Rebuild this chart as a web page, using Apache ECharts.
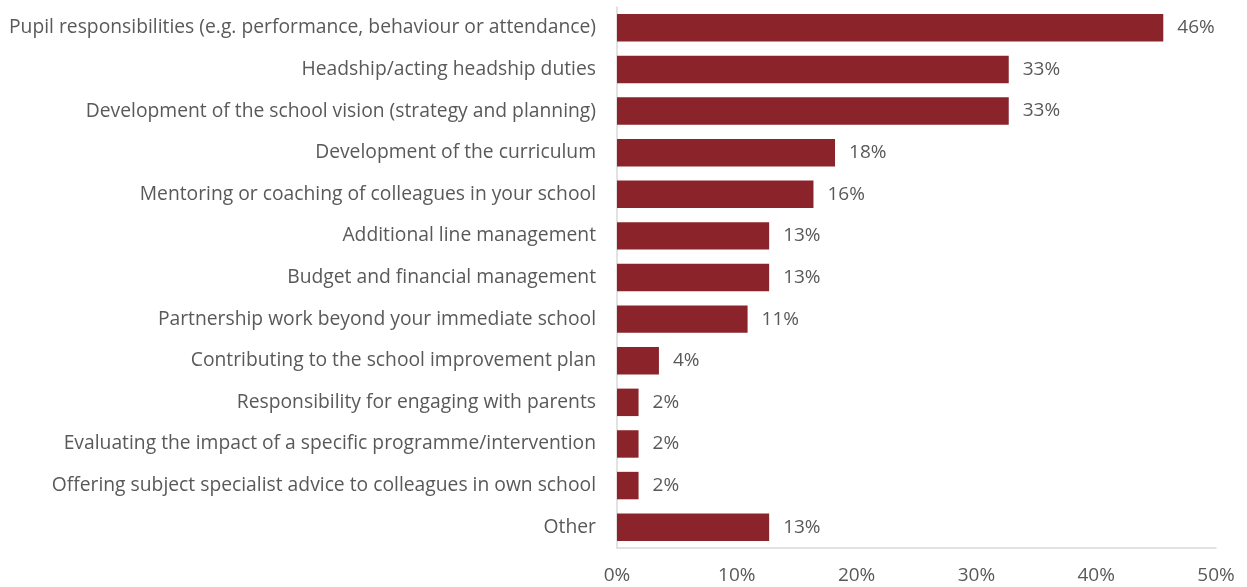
<!DOCTYPE html>
<html>
<head>
<meta charset="utf-8">
<script src="https://cdn.jsdelivr.net/npm/echarts@6/dist/echarts.min.js"></script>
<style>
  html, body { margin: 0; padding: 0; background: #fff; }
  #main { width: 1247px; height: 587px; }
</style>
</head>
<body>
<div id="main"></div>
<script>
var categories = [
  "Pupil responsibilities (e.g. performance, behaviour or attendance)",
  "Headship/acting headship duties",
  "Development of the school vision (strategy and planning)",
  "Development of the curriculum",
  "Mentoring or coaching of colleagues in your school",
  "Additional line management",
  "Budget and financial management",
  "Partnership work beyond your immediate school",
  "Contributing to the school improvement plan",
  "Responsibility for engaging with parents",
  "Evaluating the impact of a specific programme/intervention",
  "Offering subject specialist advice to colleagues in own school",
  "Other"
];
var values = [45.6, 32.7, 32.7, 18.2, 16.4, 12.7, 12.7, 10.9, 3.5, 1.8, 1.8, 1.8, 12.7];
var xTicks = [0, 10, 20, 30, 40, 50];

var textColor = "#595959";
var fontFam = "'Open Sans', Lato, sans-serif";

var myChart = echarts.init(document.getElementById("main"));

var option = {
  backgroundColor: "#fff",
  animation: false,
  grid: {
    left: 617,
    right: 31,
    top: 7,
    bottom: 39
  },
  xAxis: {
    type: "value",
    min: xTicks[0],
    max: xTicks[xTicks.length - 1],
    interval: 10,
    axisLine: { show: true, lineStyle: { color: "#d9d9d9", width: 1.5 } },
    axisTick: { show: false },
    splitLine: { show: false },
    axisLabel: {
      color: textColor,
      fontSize: 19,
      fontFamily: fontFam,
      margin: 18,
      formatter: function (v) { return v + "%"; }
    }
  },
  yAxis: {
    type: "category",
    data: categories,
    inverse: true,
    axisLine: { show: true, lineStyle: { color: "#d9d9d9", width: 1.5 } },
    axisTick: { show: false },
    splitLine: { show: false },
    axisLabel: {
      color: textColor,
      fontSize: 19.3,
      fontFamily: fontFam,
      margin: 21
    }
  },
  series: [
    {
      type: "bar",
      data: values,
      barWidth: "66%",
      itemStyle: { color: "#8b242a" },
      label: {
        show: true,
        position: "right",
        distance: 14,
        color: textColor,
        fontSize: 19,
        fontFamily: fontFam,
        formatter: function (p) { return Math.round(p.value) + "%"; }
      }
    }
  ]
};

myChart.setOption(option);
</script>
</body>
</html>
